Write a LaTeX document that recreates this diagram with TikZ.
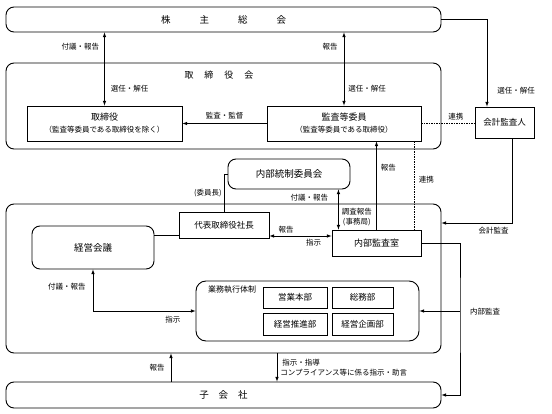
\documentclass[tikz,border=0pt]{standalone}
\usepackage{fontspec}
\setmainfont{Noto Sans CJK JP}
\usetikzlibrary{calc}

\begin{document}
\begin{tikzpicture}[x=1pt,y=-1pt,>=latex,
    box/.style={draw,line width=0.9pt,inner sep=0pt,font=\fontsize{9}{11}\selectfont},
    rbox/.style={box,rounded corners=8pt},
    cell/.style={box,line width=0.8pt,font=\fontsize{8.5}{10}\selectfont},
    lbl/.style={font=\fontsize{7.5}{10}\selectfont,inner sep=0pt},
    line/.style={line width=0.6pt}]
  \useasboundingbox (0,0) rectangle (552,414);

  % bodies
  \node[rbox,minimum width=435pt,minimum height=25pt,font=\fontsize{9.5}{11}\selectfont] (soukai) at (223.5,19.5)
    {株\hspace{29pt}主\hspace{29pt}総\hspace{29pt}会};
  \node[rbox,minimum width=435pt,minimum height=86pt] (torikai) at (223.5,106) {};
  \node[font=\fontsize{9}{11}\selectfont] (torikai-t) at (219,75)
    {取\hspace{11pt}締\hspace{11pt}役\hspace{11pt}会};
  \node[box,minimum width=155pt,minimum height=35pt,align=center] (torishimari) at (104.5,123.5)
    {取締役\\[1pt]{\fontsize{7.5}{9}\selectfont （監査等委員である取締役を除く）}};
  \node[box,minimum width=154pt,minimum height=35pt,align=center] (kansa) at (344,123.5)
    {監査等委員\\[1pt]{\fontsize{7.5}{9}\selectfont （監査等委員である取締役）}};
  \node[box,minimum width=59pt,minimum height=31pt,font=\fontsize{8.5}{10}\selectfont] (kaikei) at (504.5,122.5) {会計監査人};
  \node[rbox,minimum width=122pt,minimum height=30pt,font=\fontsize{9.5}{11}\selectfont] (naibutousei) at (289,174) {内部統制委員会};

  % company
  \node[rbox,minimum width=435pt,minimum height=149pt] (company) at (223.5,278.5) {};
  \node[box,minimum width=90pt,minimum height=26pt,font=\fontsize{8.5}{10}\selectfont] (shachou) at (224,225) {代表取締役社長};
  \node[box,minimum width=89pt,minimum height=26pt] (naibukansa) at (376.5,243) {内部監査室};
  \node[rbox,minimum width=122pt,minimum height=43pt,font=\fontsize{9.5}{11}\selectfont] (keieikaigi) at (93,247.5) {経営会議};
  \node[rbox,rounded corners=10pt,minimum width=223pt,minimum height=60pt] (gyoumu) at (307.5,311) {};
  \node[font=\fontsize{8}{10}\selectfont,anchor=west,inner sep=0pt] (gyoumu-t) at (208,290) {業務執行体制};
  \node[cell,minimum width=64pt,minimum height=21pt] (eigyou) at (295,297.5) {営業本部};
  \node[cell,minimum width=61pt,minimum height=21pt] (soumu) at (362.5,297.5) {総務部};
  \node[cell,minimum width=64pt,minimum height=22pt] (suishin) at (295,324) {経営推進部};
  \node[cell,minimum width=61pt,minimum height=22pt] (kikaku) at (362.5,324) {経営企画部};
  \node[rbox,minimum width=435pt,minimum height=26pt,font=\fontsize{9.5}{11}\selectfont] (kogaisha) at (223.5,395)
    {子\hspace{10pt}会\hspace{10pt}社};

  % connectors
  \draw[line,<->] (torishimari.north |- soukai.south) -- (torishimari.north)
    node[lbl,pos=0.19,left=5pt] {付議・報告}
    node[lbl,pos=0.77,right=6pt] {選任・解任};
  \draw[line,<->] (kansa.north |- soukai.south) -- (kansa.north)
    node[lbl,pos=0.19,left=6pt] {報告}
    node[lbl,pos=0.77,right=4pt] {選任・解任};
  \draw[line,->] (kansa.west) -- (torishimari.east)
    node[lbl,midway,above=4pt] {監査・監督};
  \draw[line,->] (soukai.east) -| ([xshift=-17.5pt]kaikei.north)
    node[lbl,pos=0.91,right=10pt] {選任・解任};
  \draw[line,dash pattern=on 1.5pt off 1pt] (kansa.east) -- (kansa.east -| kaikei.west)
    node[lbl,pos=0.65,above=3pt] {連携};
  \draw[line,dash pattern=on 1.5pt off 1pt] ([xshift=-7pt]kansa.south east) -- ([xshift=-7pt]naibukansa.north east)
    node[lbl,pos=0.43,right=4pt] {連携};
  \draw[line,->] (naibukansa.north) -- (naibukansa.north |- kansa.south)
    node[lbl,pos=0.7,right=4pt] {報告};

  \coordinate (tousei-s) at ([xshift=-12pt]naibutousei.south east);
  \draw[line,<->] (tousei-s) -- (tousei-s |- naibukansa.north)
    node[lbl,pos=0.2,left=10pt] {付議・報告}
    node[lbl,pos=0.7,right=3pt,align=center] {調査報告\\(事務局)};
  \draw[line] (shachou.north) |- (naibutousei.west)
    node[lbl,pos=0.25,left=2pt] {(委員長)};

  \coordinate (shachou-r) at ([yshift=-11pt]shachou.east);
  \coordinate (shachou-l) at ([yshift=-10pt]shachou.west);
  \draw[line,<->] (shachou-r) -- (shachou-r -| naibukansa.west)
    node[lbl,pos=0.27,above=3pt] {報告}
    node[lbl,pos=0.71,below=3pt] {指示};
  \draw[line] (keieikaigi.east |- shachou-l) -- (shachou-l);
  \draw[line,<->] (keieikaigi.south) |- (gyoumu.west)
    node[lbl,pos=0.21,left=7pt] {付議・報告}
    node[lbl,pos=0.89,below=5pt] {指示};

  \draw[line,->] ([xshift=-52.5pt]kogaisha.north) -- ([xshift=-52.5pt]company.south)
    node[lbl,midway,left=6pt] {報告};
  \draw[line,->] ([xshift=53.5pt]company.south) -- ([xshift=53.5pt]kogaisha.north)
    node[lbl,midway,right=3pt,align=left] {\hspace{2pt}指示・指導\\コンプライアンス等に係る指示・助言};

  \coordinate (kansa-turn) at (460,311);
  \draw[line,->] (naibukansa.east) -| (kansa-turn) |- (kogaisha.east);
  \draw[line,->] (kansa-turn) -- (gyoumu.east);
  \node[lbl,anchor=west] (kansa-t) at (470,312) {内部監査};
  \draw[line,->] ([xshift=7.5pt]kaikei.south) |- ([yshift=55.5pt]company.east)
    node[lbl,pos=0.63,below=4pt] {会計監査};
\end{tikzpicture}
\end{document}
